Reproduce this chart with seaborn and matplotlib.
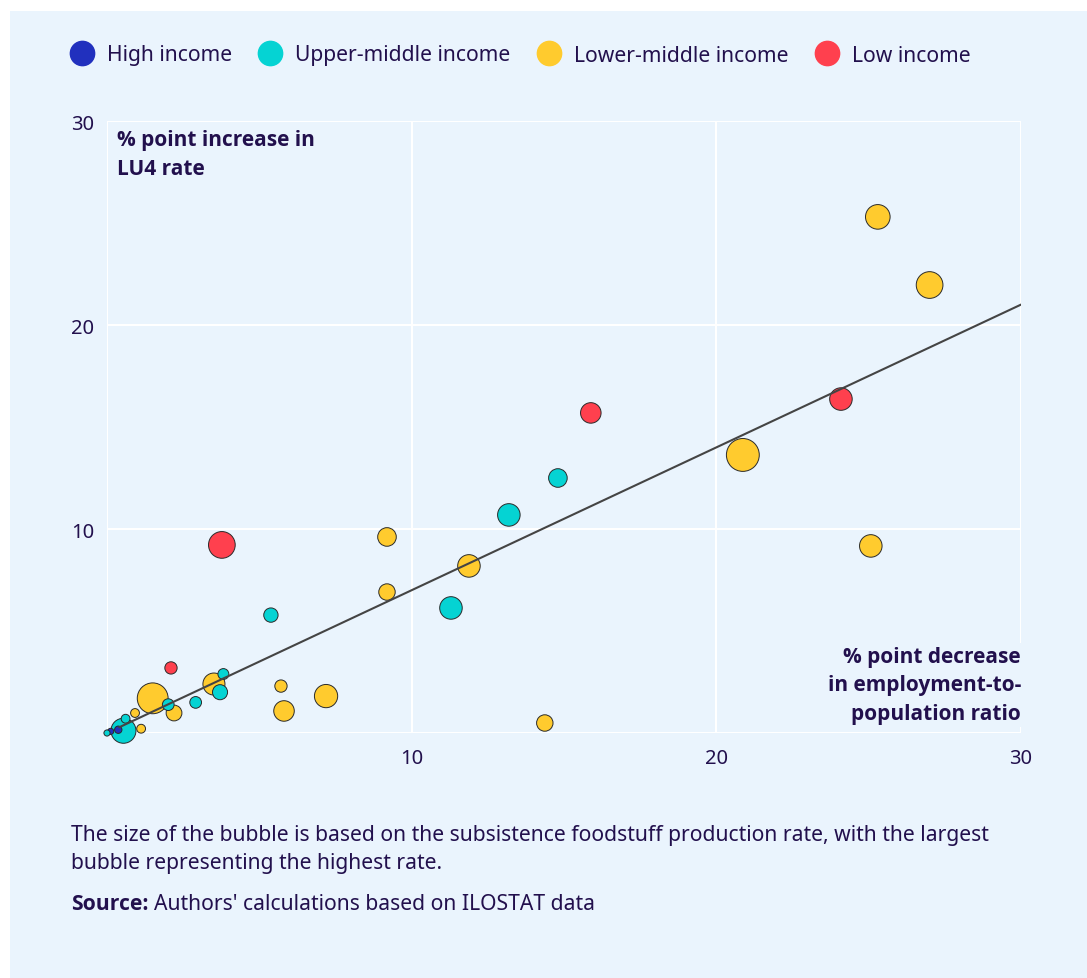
import matplotlib
matplotlib.use("Agg")
import matplotlib.pyplot as plt
import seaborn as sns
import pandas as pd
from matplotlib.lines import Line2D
from matplotlib.patches import Rectangle

# ---------------- data ----------------
groups = ["High income", "Upper-middle income", "Lower-middle income", "Low income"]
colors = ["#2130BE", "#05D3D3", "#FFCB2E", "#FF404E"]

high_x = [0.37, 0.12]
high_y = [0.16, 0.08]
high_rate = [5, 3.5]

upper_x = [0.0, 0.54, 0.61, 2.01, 2.91, 3.71, 3.82, 5.38, 11.29, 13.19, 14.80]
upper_y = [0.0, 0.11, 0.70, 1.39, 1.50, 2.00, 2.89, 5.78, 6.13, 10.69, 12.50]
upper_rate = [3.5, 58, 7.2, 12.7, 12.7, 21, 11, 19, 47, 47, 32]

lower_x = [0.92, 1.12, 1.50, 2.20, 3.51, 5.71, 5.81, 7.19, 9.19, 9.19, 11.88, 14.37, 20.87, 25.07, 25.30, 27.00]
lower_y = [0.98, 0.21, 1.70, 0.98, 2.40, 2.30, 1.08, 1.81, 6.91, 9.61, 8.19, 0.49, 13.63, 9.17, 25.30, 21.96]
lower_rate = [7.2, 7.2, 88, 23, 45, 14, 39, 50, 25, 32, 47, 25, 100, 47, 56, 66]

low_x = [2.10, 3.77, 15.88, 24.09]
low_y = [3.19, 9.22, 15.69, 16.37]
low_rate = [14, 66, 39, 47]

trend_x = [0.4, 30.0]
trend_y = [0.28, 21.0]

x_ticks = [0, 10, 20, 30]
x_tick_labels = ["", "10", "20", "30"]
y_ticks = [0, 10, 20, 30]
y_tick_labels = ["", "10", "20", "30"]

# ---------------- build frame ----------------
rows = []
for g, xs, ys, rs in zip(groups,
                         [high_x, upper_x, lower_x, low_x],
                         [high_y, upper_y, lower_y, low_y],
                         [high_rate, upper_rate, lower_rate, low_rate]):
    for x, y, r in zip(xs, ys, rs):
        rows.append({"group": g, "x": x, "y": y, "rate": r})
df = pd.DataFrame(rows).sort_values("rate", ascending=False, kind="stable")

# ---------------- style ----------------
sns.set_theme(style="white")
plt.rcParams["font.family"] = ["Noto Sans", "DejaVu Sans"]
BOLD = ["Open Sans", "DejaVu Sans"]
TEXT = "#22104D"
BG = "#EAF4FD"
FS = 15.2

W, H = 1087, 979
fig = plt.figure(figsize=(W / 100, H / 100), dpi=100)
fig.patch.set_facecolor("white")
fig.add_artist(Rectangle((10 / W, 0), 1 - 10 / W, 1 - 12 / H, transform=fig.transFigure,
                         facecolor=BG, edgecolor="none", zorder=-10))

ax = fig.add_axes([107 / W, 1 - 734 / H, (1021 - 107) / W, (734 - 122) / H])
ax.set_facecolor(BG)

sns.scatterplot(data=df, x="x", y="y", hue="group", hue_order=groups,
                palette=dict(zip(groups, colors)), size="rate",
                sizes=(0, 560), size_norm=(0, 100), edgecolor="#2a2a2a",
                linewidth=0.7, alpha=1, legend=False, ax=ax, zorder=3, clip_on=False)

ax.plot(trend_x, trend_y, color="#444444", linewidth=1.5, zorder=4)

ax.set_xlim(0, 30)
ax.set_ylim(0, 30)
ax.set_xticks(x_ticks)
ax.set_xticklabels(x_tick_labels)
ax.set_yticks(y_ticks)
ax.set_yticklabels(y_tick_labels)
ax.grid(True, color="white", linewidth=1.5, zorder=0)
ax.set_axisbelow(True)
for s in ax.spines.values():
    s.set_visible(False)
ax.tick_params(axis="x", length=0, pad=11, labelsize=14.5, labelcolor=TEXT)
ax.tick_params(axis="y", length=0, pad=9, labelsize=14.5, labelcolor=TEXT)
ax.set_xlabel("")
ax.set_ylabel("")

# axis titles inside the plot
ax.text(10 / 914, 1 - 8 / 612, "% point increase in\nLU4 rate", transform=ax.transAxes,
        ha="left", va="top", fontsize=15, fontweight="bold", family=BOLD, color=TEXT,
        linespacing=1.47, zorder=5,
        bbox=dict(facecolor=BG, edgecolor="none", pad=2))
ax.text(1.0, 9 / 612, "% point decrease\nin employment-to-\npopulation ratio",
        transform=ax.transAxes, ha="right", va="bottom", fontsize=15,
        fontweight="bold", family=BOLD, color=TEXT, linespacing=1.47, zorder=5,
        bbox=dict(facecolor=BG, edgecolor="none", pad=2))

# legend
handles = [Line2D([0], [0], marker="o", linestyle="none", markersize=17.5,
                  markerfacecolor=c, markeredgecolor=c) for c in colors]
fig.legend(handles, groups, loc="center left", bbox_to_anchor=(69 / W, 1 - 56 / H),
           ncol=4, frameon=False, fontsize=FS, labelcolor=TEXT,
           handletextpad=0.6, columnspacing=1.2, handlelength=1.2,
           borderaxespad=0, borderpad=0)

# footnotes
fig.text(71 / W, 1 - 836 / H, "The size of the bubble is based on the subsistence foodstuff production rate, with the largest",
         ha="left", va="center", fontsize=FS, color=TEXT)
fig.text(71 / W, 1 - 864 / H, "bubble representing the highest rate.",
         ha="left", va="center", fontsize=FS, color=TEXT)
src = fig.text(71 / W, 1 - 905 / H, "Source:", ha="left", va="center", fontsize=FS,
               color=TEXT, fontweight="bold", family=BOLD)
fig.canvas.draw()
bb = src.get_window_extent()
fig.text((bb.x1 + 5) / W, 1 - 905 / H, "Authors' calculations based on ILOSTAT data",
         ha="left", va="center", fontsize=FS, color=TEXT)

fig.savefig("out.png", dpi=100, facecolor=fig.get_facecolor())
